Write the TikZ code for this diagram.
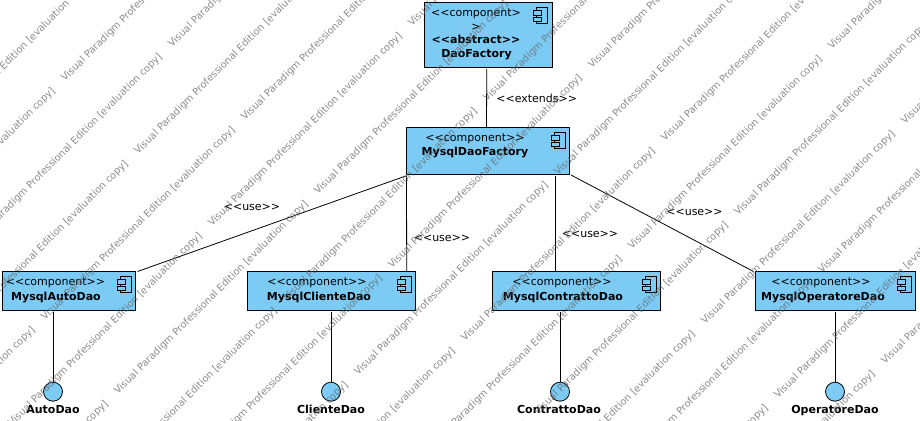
\documentclass[tikz,border=0pt]{standalone}
\usepackage{fontspec}
\setmainfont{DejaVu Sans}
\usetikzlibrary{calc}
\definecolor{compblue}{HTML}{7BCBF5}
\definecolor{wmgray}{HTML}{666666}
\newcommand{\oop}{<{}<}
\newcommand{\ccl}{>{}>}
\tikzset{
  comp/.style={draw=black,line width=0.9pt,fill=compblue,inner sep=0pt,outer sep=0pt,anchor=north west,minimum width=#1},
  comp/.default=10pt,
  lolly/.style={circle,draw=black,line width=0.8pt,fill=compblue,minimum size=19pt,inner sep=0pt,outer sep=0pt},
  lbl/.style={font=\fontsize{11}{13}\selectfont,anchor=base,inner sep=0pt,yshift=-0.7pt},
  blbl/.style={font=\fontsize{11}{13}\selectfont\bfseries,anchor=base,inner sep=0pt,yshift=-0.7pt},
  conn/.style={draw=black,line width=0.8pt},
  wm/.style={font=\fontsize{9.9}{11}\selectfont,text=wmgray,text opacity=0.75,anchor=base west,rotate=45,inner sep=0pt},
  iconpart/.style={draw=black,line width=0.7pt,fill=compblue}
}
\newcommand{\compicon}[1]{%
  \draw[iconpart] ([shift={(-15.5pt,-4.5pt)}]#1.north east) rectangle ([shift={(-4.5pt,-21.2pt)}]#1.north east);
  \draw[iconpart] ([shift={(-18.2pt,-7.8pt)}]#1.north east) rectangle ([shift={(-10.5pt,-12.5pt)}]#1.north east);
  \draw[iconpart] ([shift={(-18.2pt,-14.5pt)}]#1.north east) rectangle ([shift={(-10.5pt,-19.2pt)}]#1.north east);
}
\begin{document}
\begin{tikzpicture}[x=1pt,y=-1pt]
\useasboundingbox[fill=white] (0,0) rectangle (920,420);
% boxes
\node[comp=127.5pt,minimum height=64.5pt] (df) at (424.5,2.5) {};
\node[comp=163pt,minimum height=46.5pt] (mdf) at (406.5,127.5) {};
\node[comp=133pt,minimum height=38.5pt] (auto) at (2.5,271.5) {};
\node[comp=168pt,minimum height=38.5pt] (cli) at (247.5,271.5) {};
\node[comp=168pt,minimum height=38.5pt] (con) at (492.5,271.5) {};
\node[comp=160pt,minimum height=38.5pt] (ope) at (755.5,271.5) {};
\foreach \b in {df,mdf,auto,cli,con,ope} {\compicon{\b}}
% lollipops
\node[lolly] (iauto) at (53,391.7) {};
\node[lolly] (icli) at (331,391.7) {};
\node[lolly] (icon) at (560,391.7) {};
\node[lolly] (iope) at (835,391.7) {};
% connectors
\draw[conn] ([shift={(-1.5pt,-2pt)}]df.south) -- ([xshift=-1.5pt]mdf.north);
\draw[conn] ([yshift=-1.7pt]mdf.south west) -- ([xshift=2pt]auto.north east);
\draw[conn] ([yshift=-2pt]mdf.south west) -- ([xshift=-8.8pt]cli.north east);
\draw[conn] ([shift={(1.5pt,-1pt)}]mdf.south east) -- ([xshift=-2pt]ope.north west);
\draw[conn] ([shift={(-14.5pt,-2pt)}]mdf.south east) -- ([xshift=62.5pt]con.north west);
\draw[conn] ([yshift=-2pt]auto.south -| iauto.center) -- (iauto.north);
\draw[conn] ([yshift=-2pt]cli.south -| icli.center) -- (icli.north);
\draw[conn] ([yshift=-2pt]con.south -| icon.center) -- (icon.north);
\draw[conn] ([yshift=-2pt]ope.south -| iope.center) -- (iope.north);
% texts
\node[lbl] (t1) at (476,16) {\oop component>};
\node[lbl] (t2) at (476,29.5) {>};
\node[blbl] (t3) at (476,43.3) {\oop abstract\ccl};
\node[blbl] (t4) at (476.5,57.3) {DaoFactory};
\node[lbl] (t5) at (475,140.7) {\oop component\ccl};
\node[blbl] (t6) at (475,155) {MysqlDaoFactory};
\node[lbl] (t7) at (55.5,285) {\oop component\ccl};
\node[blbl] (t8) at (56,299.3) {MysqlAutoDao};
\node[lbl] (t9) at (317,285) {\oop component\ccl};
\node[blbl] (t10) at (319,299.3) {MysqlClienteDao};
\node[lbl] (t11) at (562,285) {\oop component\ccl};
\node[blbl] (t12) at (563,299.3) {MysqlContrattoDao};
\node[lbl] (t13) at (821,285) {\oop component\ccl};
\node[blbl] (t14) at (823,299.3) {MysqlOperatoreDao};
\node[lbl] (e1) at (536.7,101.7) {\oop extends\ccl};
\node[lbl] (u1) at (252,210) {\oop use\ccl};
\node[lbl] (u2) at (442,240.7) {\oop use\ccl};
\node[lbl] (u3) at (590,236.7) {\oop use\ccl};
\node[lbl] (u4) at (694.5,214.5) {\oop use\ccl};
\node[blbl] (b1) at (53,412.3) {AutoDao};
\node[blbl] (b2) at (331,412.3) {ClienteDao};
\node[blbl] (b3) at (559,412.3) {ContrattoDao};
\node[blbl] (b4) at (835,412.3) {OperatoreDao};
% watermark
\foreach \s/\x [count=\i] in {74/-99,147/65,220/172,293/138,366/45,439/12,513/118,589/87,661/192,734/158,807/65,882/32,954/138,1030/105,1096/22,1177/178,1250/85} {
  \foreach \k in {-2,...,5} {
    \pgfmathsetmacro{\vx}{\x+200*\k}
    \pgfmathsetmacro{\vy}{\s-\vx}
    \pgfmathparse{(\vx<930 && \vy>-10 && \vx>-290 && \vy<700)?1:0}
    \ifnum\pgfmathresult=1
      \node[wm] (wm\i-\k) at (\vx,\vy) {Visual Paradigm Professional Edition [evaluation copy]};
    \fi
  }
}
\end{tikzpicture}
\end{document}
